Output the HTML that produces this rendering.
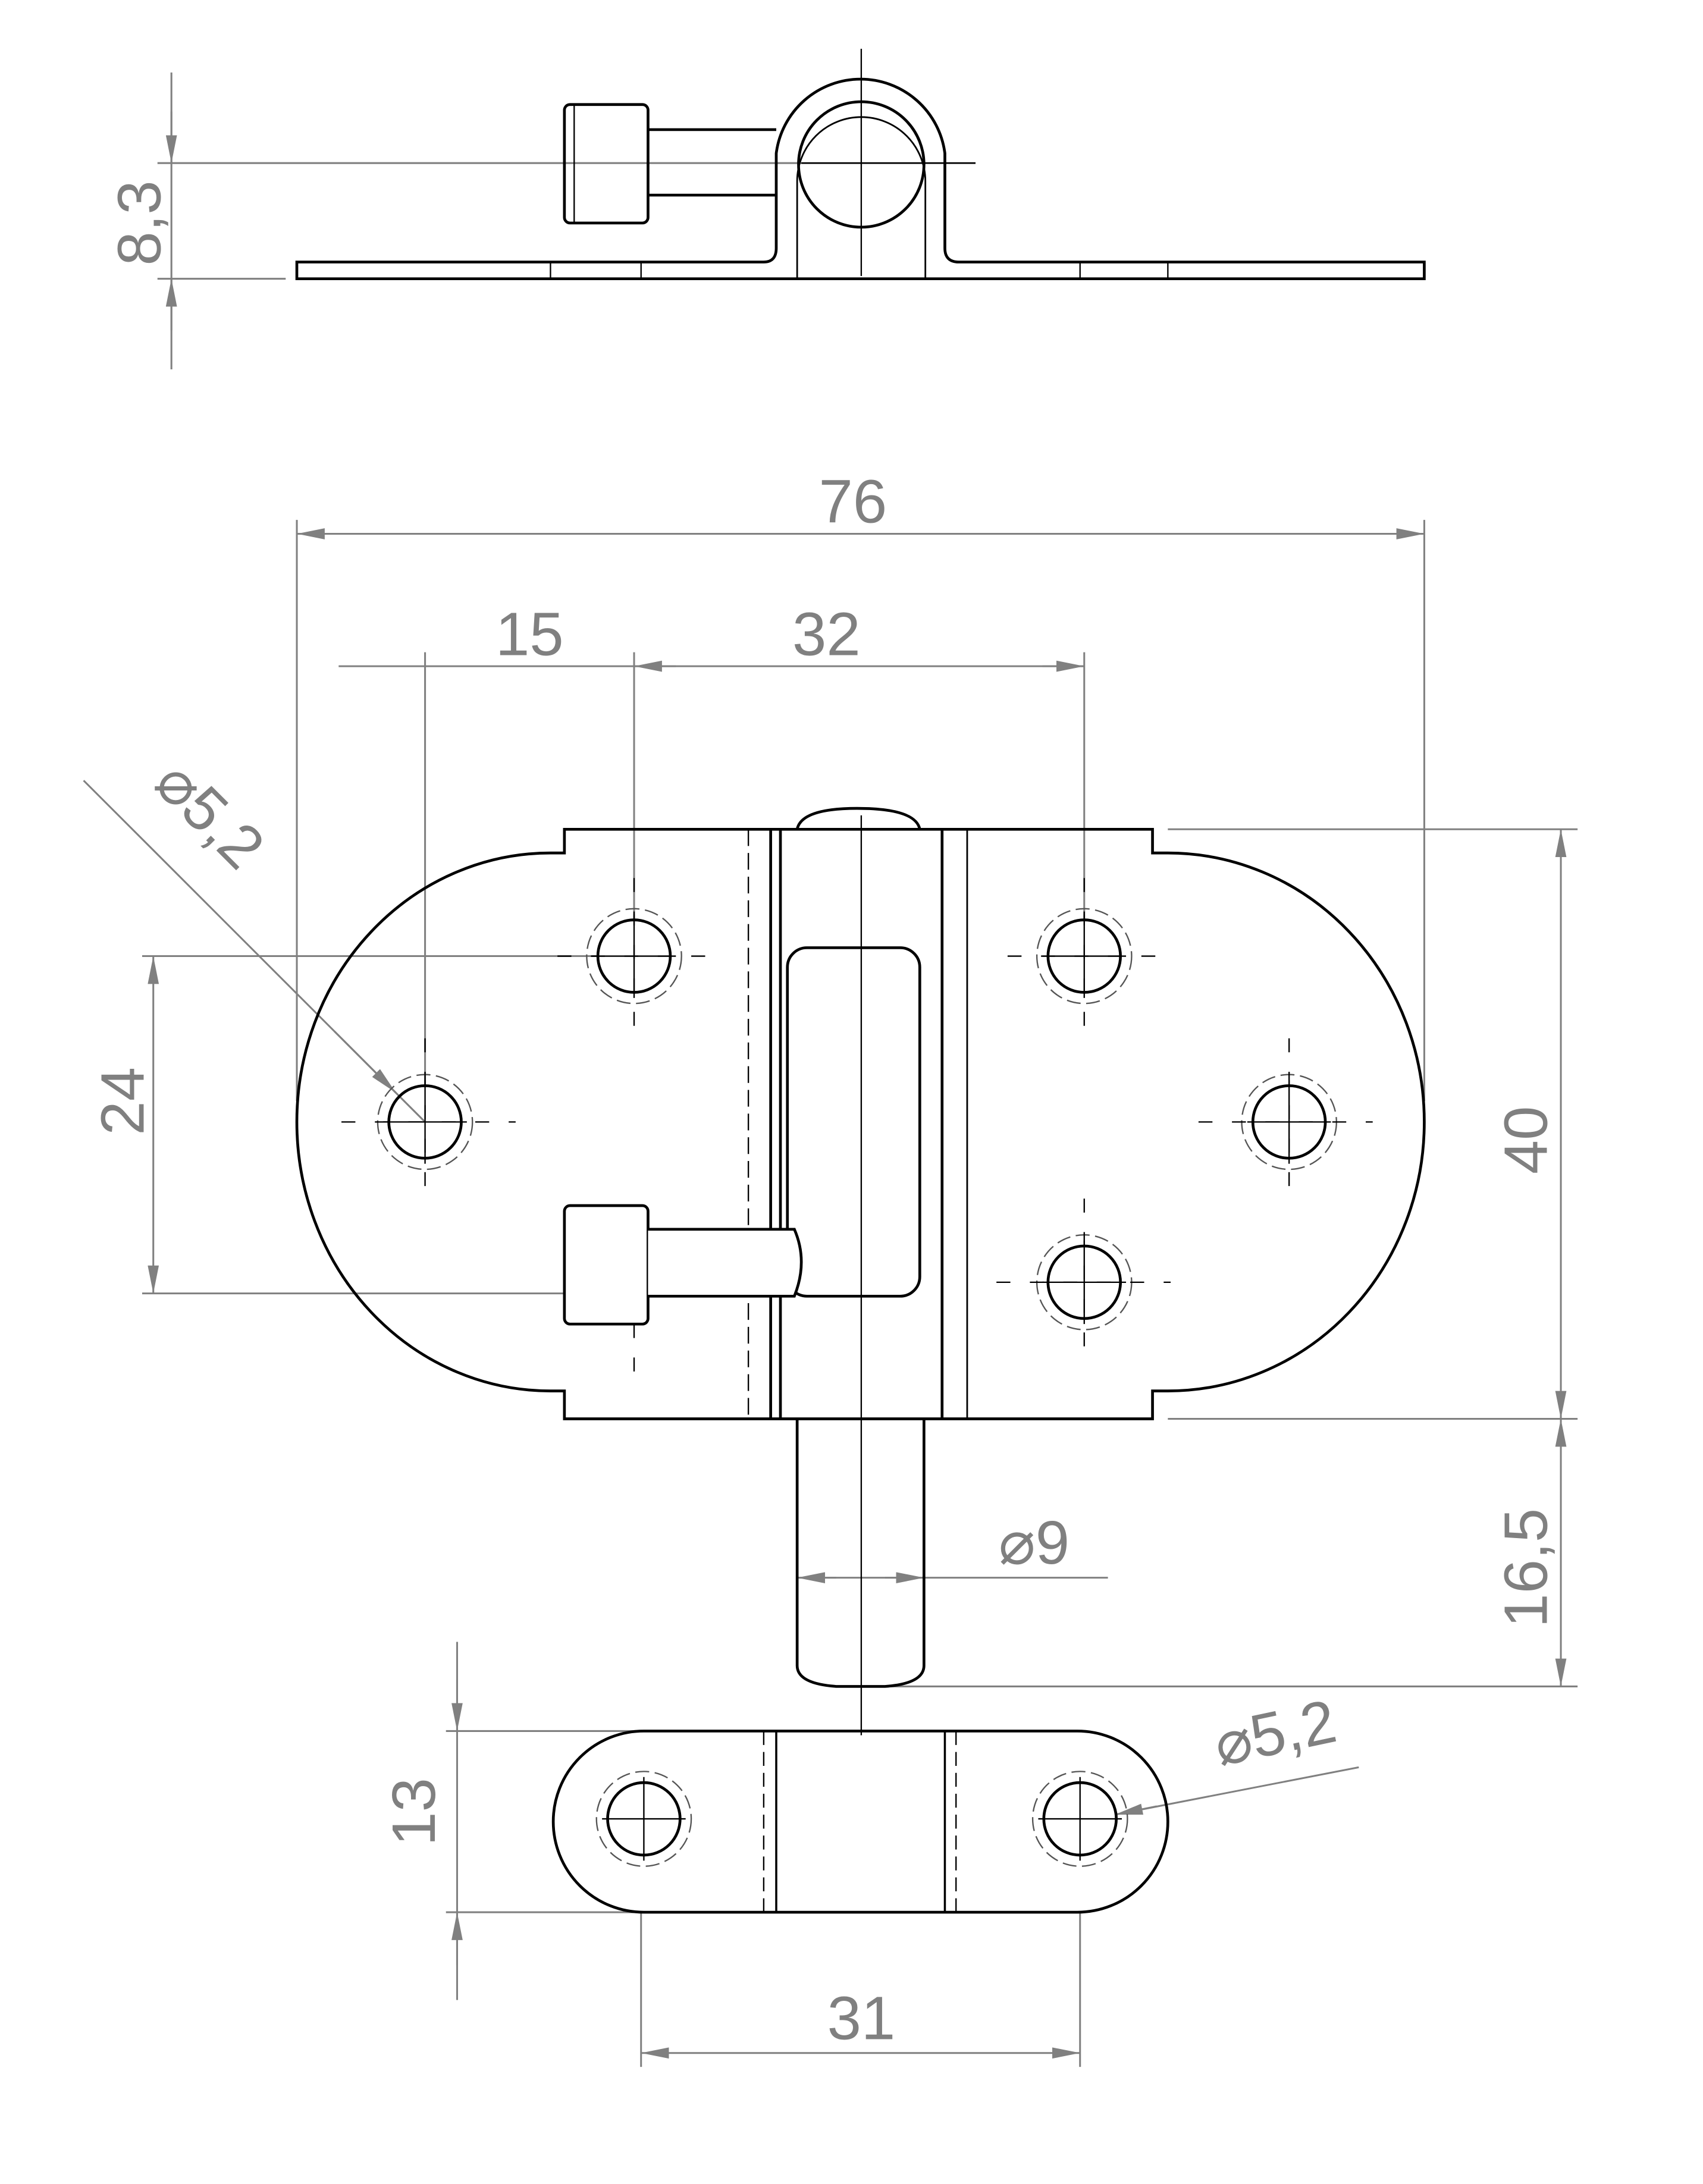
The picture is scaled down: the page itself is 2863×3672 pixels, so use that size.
<!DOCTYPE html>
<html><head><meta charset="utf-8"><style>
html,body{margin:0;padding:0;background:#fff}
svg{display:block}
text{font-family:"Liberation Sans",sans-serif;fill:#808080;font-size:44px}
</style></head><body>
<svg width="2863" height="3672" viewBox="0 0 1222 1567" preserveAspectRatio="none" xmlns="http://www.w3.org/2000/svg">
<defs>
<marker id="a" viewBox="0 0 20 8" refX="20" refY="4" markerWidth="20" markerHeight="8" markerUnits="userSpaceOnUse" orient="auto-start-reverse"><path d="M0,0L20,4L0,8z" fill="#808080"/></marker>
</defs>
<g fill="none" stroke="#808080" stroke-width="1.3">
<line x1="123" y1="52" x2="123" y2="265"/>
<line x1="123" y1="80" x2="123" y2="117" marker-end="url(#a)"/>
<line x1="123" y1="237" x2="123" y2="200" marker-end="url(#a)"/>
<line x1="113" y1="117" x2="700" y2="117"/>
<line x1="113" y1="200" x2="205" y2="200"/>
<line x1="213" y1="383" x2="1022" y2="383" marker-start="url(#a)" marker-end="url(#a)"/>
<line x1="213" y1="373" x2="213" y2="790"/>
<line x1="1022" y1="373" x2="1022" y2="790"/>
<line x1="243" y1="478" x2="305" y2="478"/>
<line x1="305" y1="478" x2="778" y2="478"/>
<line x1="455" y1="478" x2="485" y2="478" marker-start="url(#a)"/>
<line x1="748" y1="478" x2="778" y2="478" marker-end="url(#a)"/>
<line x1="305" y1="468" x2="305" y2="780"/>
<line x1="455" y1="468" x2="455" y2="660"/>
<line x1="778" y1="468" x2="778" y2="660"/>
<line x1="110" y1="686" x2="110" y2="928" marker-start="url(#a)" marker-end="url(#a)"/>
<line x1="102" y1="686" x2="430" y2="686"/>
<line x1="102" y1="928" x2="520" y2="928"/>
<line x1="1120" y1="595" x2="1120" y2="1018" marker-start="url(#a)" marker-end="url(#a)"/>
<line x1="1120" y1="1018" x2="1120" y2="1210" marker-start="url(#a)" marker-end="url(#a)"/>
<line x1="838" y1="595" x2="1132" y2="595"/>
<line x1="838" y1="1018" x2="1132" y2="1018"/>
<line x1="620" y1="1210" x2="1132" y2="1210"/>
<line x1="572" y1="1132" x2="795" y2="1132"/>
<line x1="600" y1="1132" x2="572" y2="1132" marker-end="url(#a)"/>
<line x1="635" y1="1132" x2="663" y2="1132" marker-end="url(#a)"/>
<line x1="60" y1="560" x2="305" y2="805"/>
<line x1="240" y1="740" x2="284" y2="784" marker-end="url(#a)"/>
<line x1="328" y1="1178" x2="328" y2="1435"/>
<line x1="328" y1="1205" x2="328" y2="1242" marker-end="url(#a)"/>
<line x1="328" y1="1410" x2="328" y2="1372" marker-end="url(#a)"/>
<line x1="320" y1="1242" x2="460" y2="1242"/>
<line x1="320" y1="1372" x2="460" y2="1372"/>
<line x1="460" y1="1473" x2="775" y2="1473" marker-start="url(#a)" marker-end="url(#a)"/>
<line x1="460" y1="1372" x2="460" y2="1483"/>
<line x1="775" y1="1372" x2="775" y2="1483"/>
<line x1="975" y1="1268" x2="800" y2="1302"/>
<line x1="830" y1="1296" x2="800" y2="1302" marker-end="url(#a)"/>
</g>
<g>
<text transform="translate(115,160) rotate(-90)" text-anchor="middle">8,3</text>
<text x="612" y="375" text-anchor="middle">76</text>
<text x="380" y="470" text-anchor="middle">15</text>
<text x="593" y="470" text-anchor="middle">32</text>
<text transform="translate(103,790) rotate(-90)" text-anchor="middle">24</text>
<text transform="translate(1110,818) rotate(-90)" text-anchor="middle">40</text>
<text transform="translate(1110,1125) rotate(-90)" text-anchor="middle">16,5</text>
<text x="742" y="1122" text-anchor="middle">⌀9</text>
<text transform="translate(140,595) rotate(45)" text-anchor="middle">⌀5,2</text>
<text transform="translate(312,1300) rotate(-90)" text-anchor="middle">13</text>
<text x="618" y="1463" text-anchor="middle">31</text>
<text transform="translate(918,1258) rotate(-12)" text-anchor="middle">⌀5,2</text>
</g>
<g fill="none" stroke="#000" stroke-width="2">
<path d="M213,188 H548 Q557,188 557,178 V110 A61,61 0 0 1 678,110 V178 Q678,188 688,188 H1022 V200 H213 Z"/>
<path d="M572,200 V130 A46,46 0 0 1 664,130 V200" stroke-width="1.2"/>
<circle cx="618" cy="118" r="45"/>
<rect x="405" y="75" width="60" height="85" rx="4"/>
<line x1="465" y1="93" x2="557" y2="93"/>
<line x1="465" y1="140" x2="557" y2="140"/>
<g stroke-width="1"><line x1="395" y1="188" x2="395" y2="200"/><line x1="460" y1="188" x2="460" y2="200"/><line x1="775" y1="188" x2="775" y2="200"/><line x1="838" y1="188" x2="838" y2="200"/><line x1="618" y1="35" x2="618" y2="198"/><line x1="575" y1="117" x2="700" y2="117"/><line x1="412" y1="75" x2="412" y2="160"/></g>
<path d="M405,595 H827 V612 H838 A184,193 0 0 1 838,998 H827 V1018 H405 V998 H395 A182,193 0 0 1 395,612 H405 Z"/>
<line x1="553" y1="595" x2="553" y2="1018"/>
<line x1="560" y1="595" x2="560" y2="1018"/>
<line x1="676" y1="595" x2="676" y2="1018"/>
<line x1="694" y1="595" x2="694" y2="1018" stroke-width="1.2"/>
<line x1="537" y1="595" x2="537" y2="1018" stroke-width="1" stroke-dasharray="12,5"/>
<path d="M572,595 Q575,580 615,580 Q657,580 660,595" />
<rect x="565" y="680" width="95" height="250" rx="14"/>
<path d="M572,1018 V1195 Q572,1208 600,1210 H635 Q663,1208 663,1195 V1018"/>
<line x1="618" y1="585" x2="618" y2="1245" stroke-width="1"/>
<rect x="405" y="865" width="60" height="85" rx="4" fill="#fff"/>
<path d="M465,882 H570 Q580,905 570,930 H465" fill="#fff"/>
</g>
<g fill="none" stroke="#000">
<g stroke-width="2">
<circle cx="455" cy="686" r="26"/><circle cx="778" cy="686" r="26"/>
<circle cx="305" cy="805" r="26"/><circle cx="925" cy="805" r="26"/>
<circle cx="778" cy="920" r="26"/>
<circle cx="462" cy="1305" r="26"/><circle cx="775" cy="1305" r="26"/>
</g>
<g stroke-width="1" stroke-dasharray="10,4" stroke="#555">
<circle cx="455" cy="686" r="34"/><circle cx="778" cy="686" r="34"/>
<circle cx="305" cy="805" r="34"/><circle cx="925" cy="805" r="34"/>
<circle cx="778" cy="920" r="34"/>
<circle cx="462" cy="1305" r="34"/><circle cx="775" cy="1305" r="34"/>
</g>
<g stroke-width="1">
<path d="M425,686h60M455,656v60M748,686h60M778,656v60M275,805h60M305,775v60M895,805h60M925,775v60M748,920h60M778,890v60M432,1305h60M462,1275v60M745,1305h60M775,1275v60"/>
</g>
<g stroke-width="1" stroke-dasharray="10,14">
<path d="M400,686h110M455,630v120M723,686h120M778,630v120M245,805h125M305,745v120M860,805h125M925,745v120M715,920h125M778,860v120M455,950v40"/>
</g>
<rect x="397" y="1242" width="441" height="130" rx="65" stroke-width="2"/>
<g stroke-width="1.5"><line x1="557" y1="1242" x2="557" y2="1372"/><line x1="678" y1="1242" x2="678" y2="1372"/></g>
<g stroke-width="1" stroke-dasharray="10,5"><line x1="548" y1="1242" x2="548" y2="1372"/><line x1="686" y1="1242" x2="686" y2="1372"/></g>
</g>
</svg>
</body></html>
